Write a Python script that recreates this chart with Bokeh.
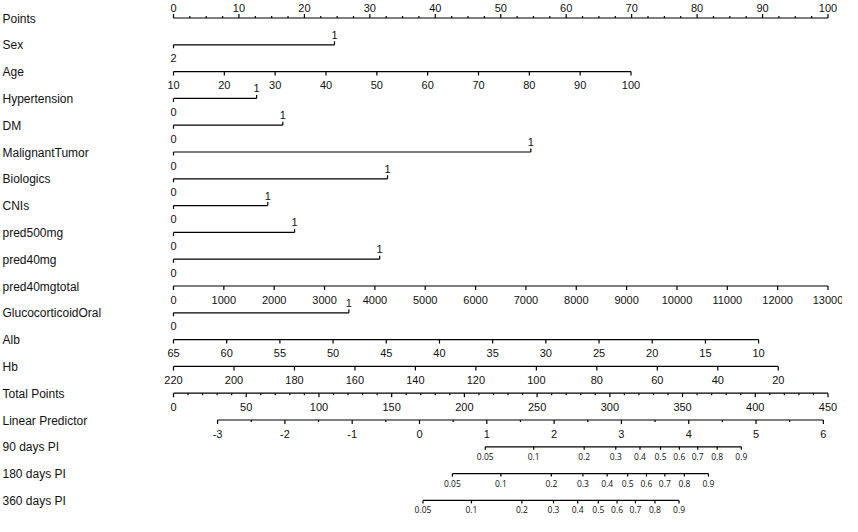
import numpy as np
from bokeh.plotting import figure
from bokeh.models import Range1d
from bokeh.core.properties import value
from bokeh.embed import file_html
from bokeh.resources import INLINE

# ---------------- data ----------------
row_names = ["Points", "Sex", "Age", "Hypertension", "DM", "MalignantTumor",
             "Biologics", "CNIs", "pred500mg", "pred40mg", "pred40mgtotal",
             "GlucocorticoidOral", "Alb", "Hb", "Total Points", "Linear Predictor",
             "90 days PI", "180 days PI", "360 days PI"]

points_ticks = [0, 10, 20, 30, 40, 50, 60, 70, 80, 90, 100]
points_minor_step = 2.5

# binary predictors: row name, label at 0 points, label at right end, points of right end
binary_rows = ["Sex", "Hypertension", "DM", "MalignantTumor", "Biologics",
               "CNIs", "pred500mg", "pred40mg", "GlucocorticoidOral"]
binary_low_labels = ["2", "0", "0", "0", "0", "0", "0", "0", "0"]
binary_high_labels = ["1", "1", "1", "1", "1", "1", "1", "1", "1"]
binary_high_points = [24.6, 12.7, 16.7, 54.6, 32.7, 14.4, 18.5, 31.5, 26.8]

# continuous predictors: tick values and points at first / last tick
age_ticks = [10, 20, 30, 40, 50, 60, 70, 80, 90, 100]
age_points = [0.0, 69.9]
pred40total_ticks = [0, 1000, 2000, 3000, 4000, 5000, 6000, 7000, 8000, 9000,
                     10000, 11000, 12000, 13000]
pred40total_points = [0.0, 100.0]
alb_ticks = [65, 60, 55, 50, 45, 40, 35, 30, 25, 20, 15, 10]
alb_points = [0.0, 89.4]
hb_ticks = [220, 200, 180, 160, 140, 120, 100, 80, 60, 40, 20]
hb_points = [0.0, 92.4]

total_ticks = [0, 50, 100, 150, 200, 250, 300, 350, 400, 450]
total_minor_step = 10
total_max = 450

lp_ticks = [-3, -2, -1, 0, 1, 2, 3, 4, 5, 6]
lp_minor_step = 0.5
lp_total_points = [30.3, 446.8]   # total points at LP = -3 and LP = 6

pi_labels = ["0.05", "0.1", "0.2", "0.3", "0.4", "0.5", "0.6", "0.7", "0.8", "0.9"]
pi90_lp = [0.977, 1.697, 2.447, 2.916, 3.276, 3.581, 3.860, 4.133, 4.423, 4.781]
pi180_lp = [0.489, 1.209, 1.959, 2.428, 2.788, 3.093, 3.372, 3.645, 3.935, 4.293]
pi360_lp = [0.052, 0.772, 1.522, 1.991, 2.351, 2.656, 2.935, 3.208, 3.498, 3.856]

# ---------------- layout ----------------
W, H = 842, 516
X0_PX = 173.0
PX_PER_PT = 6.545
PX_PER_ROW = 26.8
ROW0_PX = 17.5

x_start = -X0_PX / PX_PER_PT
x_end = x_start + W / PX_PER_PT
y_end = ROW0_PX / PX_PER_ROW
y_start = y_end - H / PX_PER_ROW

FONT = "Liberation Sans"
INK = "#111111"


def dy(px):
    return px / PX_PER_ROW


def lin(vals, v0, v1, p0, p1):
    vals = np.asarray(vals, dtype=float)
    return p0 + (vals - v0) * (p1 - p0) / (v1 - v0)


def tp_to_pts(tp):
    return np.asarray(tp, dtype=float) * 100.0 / total_max


def lp_to_pts(lp):
    tp = lin(lp, -3, 6, lp_total_points[0], lp_total_points[1])
    return tp_to_pts(tp)


p = figure(width=W, height=H, x_range=Range1d(x_start, x_end),
           y_range=Range1d(y_start, y_end), output_backend="svg",
           toolbar_location=None, x_axis_type=None, y_axis_type=None,
           min_border=0, outline_line_color=None)
p.grid.visible = False
p.background_fill_color = "white"
p.border_fill_color = "white"

row_y = {name: -i for i, name in enumerate(row_names)}

# row labels
p.text(x=[x_start + 2.0 / PX_PER_PT] * len(row_names),
       y=[row_y[n] for n in row_names], text=row_names,
       text_font=value(FONT), text_font_size=value("12px"), text_color=INK,
       text_align="left", text_baseline="middle", y_offset=0.5)

LW = 1.2


def axis_line(y, xa, xb):
    p.segment(x0=[xa], y0=[y], x1=[xb], y1=[y], line_color="black", line_width=LW)


def ticks(xs, y, length_px, up=False):
    xs = list(xs)
    d = dy(length_px) * (1 if up else -1)
    p.segment(x0=xs, y0=[y] * len(xs), x1=xs, y1=[y + d] * len(xs),
              line_color="black", line_width=LW)


def labels(xs, y, txt, above=False, size="11px", font=FONT, offset=None):
    if offset is None:
        offset = -10.5 if above else 13.5
    p.text(x=list(xs), y=[y] * len(txt), text=list(txt), text_font=value(font),
           text_font_size=value(size), text_color=INK, text_align="center",
           text_baseline="middle", y_offset=offset)


# Points axis
y = row_y["Points"]
axis_line(y, 0, 100)
ticks(points_ticks, y, 4, up=True)
minor = np.arange(0, 100 + 1e-9, points_minor_step)
ticks([m for m in minor if m % 10 != 0], y, 2, up=True)
labels(points_ticks, y, [str(t) for t in points_ticks], above=True, offset=-10.5)

# binary rows
for name, lo, hi, pts in zip(binary_rows, binary_low_labels, binary_high_labels,
                             binary_high_points):
    y = row_y[name]
    axis_line(y, 0, pts)
    ticks([0], y, 3.5, up=False)
    ticks([pts], y, 3.5, up=True)
    labels([pts], y, [hi], above=True, offset=-10.0)
    labels([0], y, [lo], above=False)


def continuous(name, tvals, prange):
    y = row_y[name]
    xs = lin(tvals, tvals[0], tvals[-1], prange[0], prange[1])
    axis_line(y, xs[0], xs[-1])
    ticks(xs, y, 4)
    labels(xs, y, [str(t) for t in tvals])


continuous("Age", age_ticks, age_points)
continuous("pred40mgtotal", pred40total_ticks, pred40total_points)
continuous("Alb", alb_ticks, alb_points)
continuous("Hb", hb_ticks, hb_points)

# Total points
y = row_y["Total Points"]
axis_line(y, 0, 100)
ticks(tp_to_pts(total_ticks), y, 4)
tmin = np.arange(0, total_max + 1e-9, total_minor_step)
ticks(tp_to_pts([m for m in tmin if m % 50 != 0]), y, 2)
labels(tp_to_pts(total_ticks), y, [str(t) for t in total_ticks])

# Linear predictor
y = row_y["Linear Predictor"]
lx = lp_to_pts(lp_ticks)
axis_line(y, lx[0], lx[-1])
ticks(lx, y, 4)
lmin = np.arange(lp_ticks[0] + lp_minor_step, lp_ticks[-1], 1.0)
ticks(lp_to_pts(lmin), y, 2)
labels(lx, y, [str(t) for t in lp_ticks])

# PI rows
for name, lps in [("90 days PI", pi90_lp), ("180 days PI", pi180_lp),
                  ("360 days PI", pi360_lp)]:
    y = row_y[name]
    xs = lp_to_pts(lps)
    axis_line(y, xs[0], xs[-1])
    ticks(xs, y, 3)
    labels(xs, y, pi_labels, size="8.5px", font="Open Sans", offset=9.5)

open("out.html", "w").write(file_html(p, INLINE))
